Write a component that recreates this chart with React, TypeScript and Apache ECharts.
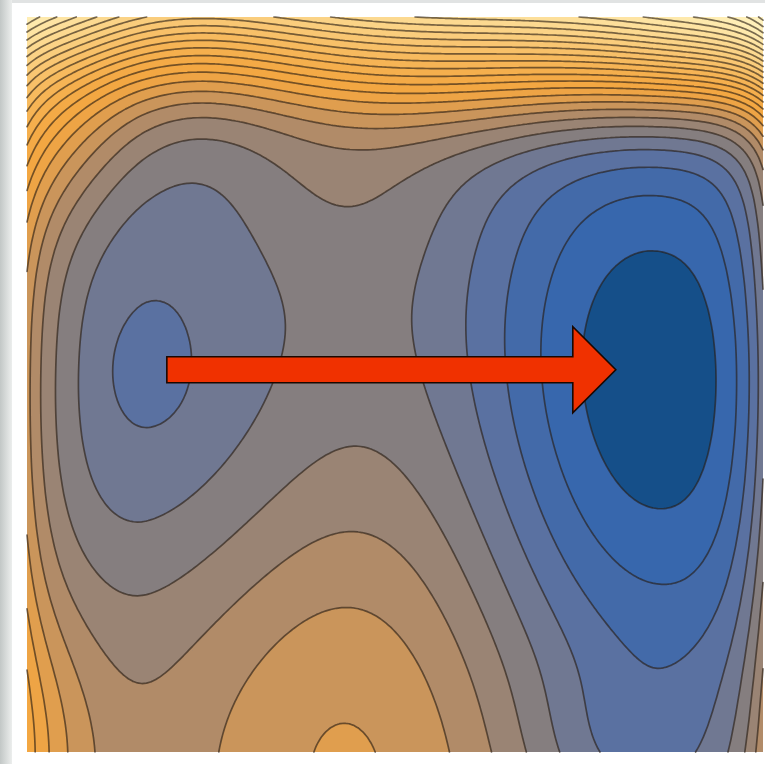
import { useEffect, useRef } from 'react';
import * as echarts from 'echarts';

// Potential-energy surface in unit plot space: x 0 → 1 (left → right),
// y 0 → 1 (bottom → top). It is a flat floor, a soft ramp along the top edge,
// two side walls and a set of Gaussian-type basins and hills.
const floorLevel = 6.26;
// top ramp: height, start line, softness, start-line curvature, curvature centre
const topRamp = [3.745, 0.848, 0.036, 0.157, 0.7];
const leftWall = [3.2, 0.042]; // height, decay length
const rightWall = [3.487, 0.038];

// basins (negative amplitude) and hills (positive amplitude):
// right basin, right trough, left basin, left core, bottom hill, upper pass,
// bottom-left corner, top-left corner, top-right corner
const termAmp = [-6.239, -1.022, -2.616, -0.8, 3.068, 0.95, 2.148, 8.0, 5.0];
const termX = [0.866, 0.811, 0.166, 0.166, 0.455, 0.4, 0, 0, 1];
const termY = [0.502, 0, 0.518, 0.518, 0, 0.78, 0, 1, 1];
const termSxLeft = [0.28, 0.128, 0.191, 0.045, 0.273, 0.17, 0.103, 0.165, 0.242];
const termSxRight = [0.28, 0.128, 0.3, 0.045, 0.273, 0.17, 0.103, 0.165, 0.242];
const termSyBelow = [0.495, 0.108, 0.33, 0.06, 0.45, 0.15, 0.203, 0.223, 0.12];
const termSyAbove = [0.473, 0.108, 0.662, 0.06, 0.45, 0.15, 0.203, 0.223, 0.12];
const termPowX = [2.2, 2, 2, 2, 2, 2, 2, 2, 2];
const termPowY = [2, 2, 2.5, 2, 2, 2, 2, 2, 2];

// contour levels, and the colour of each filled band (band k lies above level k)
const levels = [1, 2, 3, 4, 5, 6, 7, 8, 9, 10, 11, 12, 13, 14, 15, 16, 17, 18, 19, 20, 21, 22, 23, 24, 25, 26, 27, 28];
const bandColors = [
  '#154f89', '#3767ad', '#436aa9', '#5a71a1', '#707892', '#857e7f', '#9a8474',
  '#b18b68', '#ca955b', '#e09e4e', '#eea445', '#f3a742', '#f4aa46', '#f5af4d',
  '#f6b455', '#f7ba5e', '#f8c068', '#f9c672', '#facd7c', '#fbd386', '#fcd990',
  '#fddf9a', '#fee4a3', '#fee9ac', '#ffeeb5', '#fff0ba', '#fff2bf', '#fff4c4', '#fff6c9',
];

// reaction arrow, from the shallow basin towards the deep one
const arrowFrom = [0.19, 0.52];
const arrowTo = [0.8, 0.52];

const GRID_N = 160;

function potential(x: number, y: number): number {
  let v = floorLevel;
  const start = topRamp[1] + topRamp[3] * (x - topRamp[4]) * (x - topRamp[4]);
  const z = (y - start) / topRamp[2];
  v += topRamp[0] * (z > 30 ? z : Math.log(1 + Math.exp(z)));
  v += leftWall[0] * Math.exp(-x / leftWall[1]);
  v += rightWall[0] * Math.exp(-(1 - x) / rightWall[1]);
  for (let i = 0; i < termAmp.length; i++) {
    const sx = x < termX[i] ? termSxLeft[i] : termSxRight[i];
    const sy = y < termY[i] ? termSyBelow[i] : termSyAbove[i];
    const dx = Math.abs(x - termX[i]) / sx;
    const dy = Math.abs(y - termY[i]) / sy;
    v += termAmp[i] * Math.exp(-Math.pow(dx, termPowX[i]) - Math.pow(dy, termPowY[i]));
  }
  return v;
}

type Geometry = { fills: number[][][]; segs: number[] };

// Filled regions {v >= level} and the level lines, from a triangulated grid
// with linear interpolation, so the fills and the lines share their edges.
function buildGeometry(): Geometry {
  const n = GRID_N;
  const w = n + 1;
  const vals = new Float64Array(w * w);
  for (let j = 0; j <= n; j++) {
    for (let i = 0; i <= n; i++) vals[j * w + i] = potential(i / n, j / n);
  }
  const fills: number[][][] = [[[0, 0, 1, 0, 1, 1, 0, 1]]];
  const segs: number[] = [];

  const clipTri = (t: number[], L: number, out: number[][]) => {
    const poly: number[] = [];
    for (let e = 0; e < 3; e++) {
      const a = e * 3;
      const b = ((e + 1) % 3) * 3;
      const ain = t[a + 2] >= L;
      const bin = t[b + 2] >= L;
      if (ain) poly.push(t[a], t[a + 1]);
      if (ain !== bin) {
        const k = (L - t[a + 2]) / (t[b + 2] - t[a + 2]);
        poly.push(t[a] + k * (t[b] - t[a]), t[a + 1] + k * (t[b + 1] - t[a + 1]));
      }
    }
    if (poly.length >= 6) out.push(poly);
  };

  const triSeg = (t: number[], L: number) => {
    const pts: number[] = [];
    for (let e = 0; e < 3; e++) {
      const a = e * 3;
      const b = ((e + 1) % 3) * 3;
      if ((t[a + 2] >= L) !== (t[b + 2] >= L)) {
        const k = (L - t[a + 2]) / (t[b + 2] - t[a + 2]);
        pts.push(t[a] + k * (t[b] - t[a]), t[a + 1] + k * (t[b + 1] - t[a + 1]));
      }
    }
    if (pts.length === 4) segs.push(pts[0], pts[1], pts[2], pts[3]);
  };

  for (const L of levels) {
    const polys: number[][] = [];
    for (let j = 0; j < n; j++) {
      const y0 = j / n;
      const y1 = (j + 1) / n;
      let run = -1;
      for (let i = 0; i < n; i++) {
        const va = vals[j * w + i];
        const vb = vals[j * w + i + 1];
        const vc = vals[(j + 1) * w + i + 1];
        const vd = vals[(j + 1) * w + i];
        const mn = Math.min(va, vb, vc, vd);
        const mx = Math.max(va, vb, vc, vd);
        if (mn >= L) {
          if (run < 0) run = i;
          continue;
        }
        if (run >= 0) {
          polys.push([run / n, y0, i / n, y0, i / n, y1, run / n, y1]);
          run = -1;
        }
        if (mx < L) continue;
        const x0 = i / n;
        const x1 = (i + 1) / n;
        const t1 = [x0, y0, va, x1, y0, vb, x1, y1, vc];
        const t2 = [x0, y0, va, x1, y1, vc, x0, y1, vd];
        clipTri(t1, L, polys);
        clipTri(t2, L, polys);
        triSeg(t1, L);
        triSeg(t2, L);
      }
      if (run >= 0) polys.push([run / n, y0, 1, y0, 1, y1, run / n, y1]);
    }
    fills.push(polys);
  }
  return { fills, segs };
}

const FillShape = echarts.graphic.extendShape({
  type: 'contourFill',
  shape: { polys: [] as number[][] },
  buildPath(ctx: any, shape: any) {
    for (const p of shape.polys) {
      ctx.moveTo(p[0], p[1]);
      for (let i = 2; i < p.length; i += 2) ctx.lineTo(p[i], p[i + 1]);
      ctx.closePath();
    }
  },
});
echarts.graphic.registerShape('contourFill', FillShape);

const LineShape = echarts.graphic.extendShape({
  type: 'contourLines',
  shape: { segs: [] as number[] },
  buildPath(ctx: any, shape: any) {
    const s = shape.segs;
    for (let i = 0; i < s.length; i += 4) {
      ctx.moveTo(s[i], s[i + 1]);
      ctx.lineTo(s[i + 2], s[i + 3]);
    }
  },
});
echarts.graphic.registerShape('contourLines', LineShape);

export default function App() {
  const ref = useRef<HTMLDivElement>(null);

  useEffect(() => {
    if (!ref.current) return;
    const chart = echarts.init(ref.current, undefined, { renderer: 'svg' });
    const geo = buildGeometry();

    // plot-unit → pixel mapping taken from the cartesian axes
    const toPixel = (api: any) => {
      const o = api.coord([0, 0]);
      const e = api.coord([1, 1]);
      const sx = e[0] - o[0];
      const sy = e[1] - o[1];
      return (flat: number[]) => {
        const out = new Array(flat.length);
        for (let i = 0; i < flat.length; i += 2) {
          out[i] = o[0] + flat[i] * sx;
          out[i + 1] = o[1] + flat[i + 1] * sy;
        }
        return out;
      };
    };

    chart.setOption({
      animation: false,
      backgroundColor: '#ffffff',
      grid: { left: 27, top: 17, right: 2, bottom: 12 },
      xAxis: { type: 'value', min: 0, max: 1, show: false },
      yAxis: { type: 'value', min: 0, max: 1, show: false },
      graphic: [
        {
          type: 'rect',
          shape: { x: 0, y: 0, width: 12, height: 764 },
          style: {
            fill: new echarts.graphic.LinearGradient(0, 0, 1, 0, [
              { offset: 0, color: '#c2c7c6' },
              { offset: 1, color: '#eceeed' },
            ]),
          },
          silent: true,
        },
        {
          type: 'rect',
          shape: { x: 12, y: 0, width: 753, height: 3 },
          style: { fill: '#e1e3e3' },
          silent: true,
        },
      ],
      series: [
        {
          type: 'custom',
          name: 'bands',
          silent: true,
          clip: false,
          z: 1,
          data: bandColors.map((_, k) => [0.5, 0.5, k]),
          renderItem: (_params: any, api: any) => {
            const k = api.value(2) as number;
            const map = toPixel(api);
            return {
              type: 'contourFill',
              shape: { polys: geo.fills[k].map(map) },
              style: { fill: bandColors[k], stroke: 'none' },
            };
          },
        },
        {
          type: 'custom',
          name: 'contours',
          silent: true,
          clip: false,
          z: 2,
          data: [[0.5, 0.5]],
          renderItem: (_params: any, api: any) => {
            const map = toPixel(api);
            return {
              type: 'contourLines',
              shape: { segs: map(geo.segs) },
              style: {
                fill: 'none',
                stroke: 'rgba(38,28,18,0.62)',
                lineWidth: 1.7,
                lineCap: 'round',
                lineJoin: 'round',
              },
            };
          },
        },
        {
          type: 'custom',
          name: 'arrow',
          silent: true,
          clip: false,
          z: 3,
          data: [[arrowFrom[0], arrowFrom[1], arrowTo[0], arrowTo[1]]],
          renderItem: (_params: any, api: any) => {
            const p0 = api.coord([api.value(0), api.value(1)]);
            const p1 = api.coord([api.value(2), api.value(3)]);
            const yc = (p0[1] + p1[1]) / 2;
            const shaft = 13;
            const head = 43;
            const xh = p1[0] - 43;
            return {
              type: 'polygon',
              shape: {
                points: [
                  [p0[0], yc - shaft],
                  [xh, yc - shaft],
                  [xh, yc - head],
                  [p1[0], yc],
                  [xh, yc + head],
                  [xh, yc + shaft],
                  [p0[0], yc + shaft],
                ],
              },
              style: { fill: '#f03100', stroke: '#1a0800', lineWidth: 1.6, lineJoin: 'miter' },
            };
          },
        },
      ],
    });
    return () => chart.dispose();
  }, []);

  return (
    <div
      ref={ref}
      style={{ position: 'absolute', left: 0, top: 0, width: 765, height: 764, background: '#fff' }}
    />
  );
}
